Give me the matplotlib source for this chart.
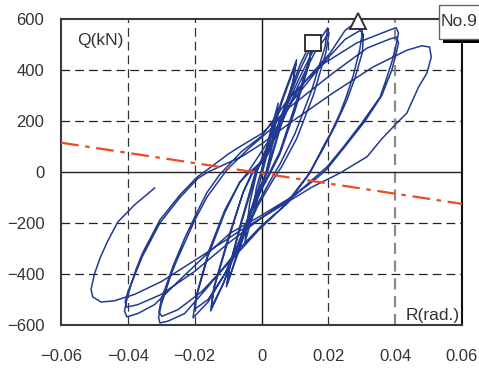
import matplotlib
matplotlib.use("Agg")
import matplotlib.pyplot as plt
from matplotlib.patches import Rectangle

plt.rcParams['font.family'] = ['Liberation Sans', 'DejaVu Sans']

# ---- hysteresis data, cycle by cycle (R in rad, Q in kN) ----
r_c1 = [0, 0.0025, 0.0015, -0.0005, -0.0025, -0.0015, 0.0005]
q_c1 = [0, 140, 60, -40, -140, -60, 30]

r_c2 = [0.0025, 0.005, 0.0035, 0.001, -0.0025, -0.005, -0.0035, -0.001]
q_c2 = [150, 270, 120, -20, -160, -280, -120, 20]

r_c3 = [0.002, 0.006, 0.0105, 0.0095, 0.006, 0.0015, -0.002, -0.006, -0.0105, -0.0095, -0.006, -0.0015]
q_c3 = [110, 280, 440, 360, 200, 0, -110, -280, -450, -370, -200, 0]

r_c4 = [0.002, 0.006, 0.0103, 0.0093, 0.006, 0.0018, -0.002, -0.006, -0.0103, -0.0093, -0.006, -0.0018]
q_c4 = [100, 270, 425, 345, 190, 0, -100, -270, -440, -355, -190, 0]

r_c5 = [0.002, 0.007, 0.0115, 0.0152, 0.0143, 0.010, 0.0055, 0.0025, -0.002, -0.007, -0.0115, -0.0152,
        -0.0143, -0.010, -0.0055, -0.0025]
q_c5 = [80, 260, 420, 520, 440, 260, 80, 0, -110, -280, -440, -545, -460, -270, -80, 0]

r_c6 = [0.002, 0.007, 0.0115, 0.015, 0.0142, 0.010, 0.0055, 0.0028, -0.002, -0.007, -0.0115, -0.015,
        -0.0142, -0.010, -0.0055, -0.0028]
q_c6 = [70, 250, 400, 495, 420, 240, 70, 0, -120, -290, -440, -530, -450, -260, -80, 0]

r_c7 = [0.001, 0.006, 0.011, 0.016, 0.0198, 0.019, 0.015, 0.010, 0.0055, 0.0032, -0.001, -0.006,
        -0.011, -0.016, -0.0205, -0.0197, -0.016, -0.011, -0.0065, -0.0035]
q_c7 = [60, 210, 360, 490, 565, 490, 320, 150, 30, -20, -120, -260,
        -400, -510, -572, -500, -330, -160, -40, 0]

r_c8 = [0.001, 0.006, 0.011, 0.016, 0.0202, 0.0193, 0.0155, 0.0105, 0.006, 0.0035, -0.001, -0.006,
        -0.011, -0.016, -0.0199, -0.0192, -0.0158, -0.011, -0.0065, -0.004]
q_c8 = [50, 190, 340, 470, 545, 470, 300, 130, 20, -30, -130, -270,
        -400, -500, -537, -470, -310, -150, -40, 0]

r_c9 = [-0.001, 0.004, 0.0115, 0.0205, 0.025, 0.0275, 0.0293, 0.0302, 0.0300, 0.0294, 0.0275,
        0.0255, 0.0235, 0.021, 0.0184, 0.0145, 0.008, 0.0, -0.008, -0.016, -0.023, -0.028,
        -0.0304, -0.0308, -0.0300, -0.027, -0.0253, -0.020, -0.0163, -0.0104]
q_c9 = [60, 160, 333, 466, 555, 580, 584, 570, 530, 480, 380,
        300, 231, 160, 98, -4, -120, -210, -320, -450, -555, -585,
        -592, -570, -520, -400, -345, -190, -98, 8]

r_c10 = [-0.004, 0.003, 0.010, 0.018, 0.025, 0.0295, 0.0305, 0.0302, 0.028, 0.0255, 0.022, 0.018,
         0.014, 0.007, -0.001, -0.010, -0.018, -0.025, -0.0298, -0.0307, -0.0300, -0.0265, -0.023,
         -0.019, -0.0163, -0.0125]
q_c10 = [90, 170, 290, 420, 520, 555, 540, 470, 370, 280, 180, 80,
         -10, -130, -230, -360, -470, -540, -566, -550, -500, -370, -260,
         -150, -80, -10]

r_c11 = [-0.006, 0.0, 0.0085, 0.018, 0.0285, 0.0384, 0.0403, 0.0410, 0.0403, 0.0392, 0.0375,
         0.0355, 0.030, 0.0245, 0.0196, 0.0175, 0.010, 0.0, -0.0094, -0.017, -0.025, -0.032,
         -0.037, -0.0403, -0.0410, -0.0403, -0.0390, -0.0375, -0.0356, -0.0304, -0.0244,
         -0.0193, -0.0163]
q_c11 = [80, 140, 294, 420, 506, 557, 566, 545, 500, 440, 370,
         294, 192, 98, 20, -4, -90, -170, -240, -330, -430, -520,
         -555, -568, -545, -500, -440, -380, -318, -188, -90,
         -20, 8]

r_c12 = [-0.010, -0.0064, 0.0, 0.0085, 0.0214, 0.0316, 0.0385, 0.0405, 0.0410, 0.0402, 0.039,
         0.036, 0.031, 0.025, 0.0195, 0.016, 0.008, 0.0, -0.010, -0.020, -0.030, -0.037,
         -0.0403, -0.0408, -0.0400, -0.0378, -0.0356, -0.0304, -0.0244, -0.019, -0.016]
q_c12 = [70, 100, 150, 255, 388, 486, 522, 529, 505, 460, 400,
         300, 200, 100, 10, -30, -110, -180, -280, -390, -480, -520,
         -530, -510, -470, -400, -330, -200, -100, -25, 0]

r_c13 = [-0.006, 0.0, 0.0085, 0.0214, 0.0334, 0.0436, 0.048, 0.0503, 0.0508, 0.0495, 0.047,
         0.0435, 0.0405, 0.036, 0.0316, 0.0235, 0.015, 0.005, -0.0064, -0.018, -0.030, -0.038,
         -0.044, -0.048, -0.0505, -0.051, -0.050, -0.0483, -0.046, -0.043, -0.038, -0.032]
q_c13 = [60, 110, 192, 310, 412, 478, 495, 490, 450, 388, 333,
         231, 192, 130, 60, -4, -60, -140, -230, -330, -430, -480,
         -505, -510, -490, -460, -400, -337, -270, -196, -129, -63]

cycles_r = [r_c1, r_c2, r_c3, r_c4, r_c5, r_c6, r_c7, r_c8, r_c9, r_c10, r_c11, r_c12, r_c13]
cycles_q = [q_c1, q_c2, q_c3, q_c4, q_c5, q_c6, q_c7, q_c8, q_c9, q_c10, q_c11, q_c12, q_c13]

# reference (dash-dot) line
pd_r = [-0.06, 0.06]
pd_q = [115, -125]

# markers
sq_r, sq_q = [0.0154], [507]
tri_r, tri_q = [0.0288], [592]

x_ticks = [-0.06, -0.04, -0.02, 0, 0.02, 0.04, 0.06]
x_labels = ['\u22120.06', '\u22120.04', '\u22120.02', '0', '0.02', '0.04', '0.06']
y_ticks = [-600, -400, -200, 0, 200, 400, 600]
y_labels = ['\u2212600', '\u2212400', '\u2212200', '0', '200', '400', '600']

# ---- figure ----
fig = plt.figure(figsize=(4.79, 3.71), dpi=100)
ax = fig.add_axes([61 / 479, 1 - 325 / 371, 401 / 479, 306 / 371])
ax.set_xlim(-0.06, 0.06)
ax.set_ylim(-600, 600)

# grid
for yv in [-400, -200, 200, 400]:
    ax.axhline(yv, color='#222222', lw=0.9, dashes=(7, 4), zorder=1)
for xv in [-0.04, -0.02, 0.02]:
    ax.axvline(xv, color='#333333', lw=0.9, dashes=(7, 4), zorder=1)
ax.axvline(0.04, color='#8a8a8a', lw=1.6, dashes=(5, 3), zorder=1)
ax.axhline(0, color='#222222', lw=1.0, zorder=1)
ax.axvline(0, color='#111111', lw=1.0, zorder=1)

# hysteresis
all_r = []
all_q = []
for rr, qq in zip(cycles_r, cycles_q):
    all_r.extend(rr)
    all_q.extend(qq)
ax.plot(all_r, all_q, color='#223b90', lw=1.1, zorder=3, solid_joinstyle='round')

# reference line
ax.plot(pd_r, pd_q, color='#ef4a24', lw=1.6, dashes=(8, 3, 2, 3), zorder=4)

# markers
ax.plot(sq_r, sq_q, marker='s', ms=11, mfc='white', mec='#333333', mew=1.4, ls='none', zorder=5)
ax.plot(tri_r, tri_q, marker='^', ms=12, mfc='white', mec='#333333', mew=1.4, ls='none',
        zorder=5, clip_on=False)

# ticks
ax.set_xticks(x_ticks)
ax.set_xticklabels(x_labels)
ax.set_yticks(y_ticks)
ax.set_yticklabels(y_labels)
ax.tick_params(length=0, labelsize=12, colors='#333333')
ax.tick_params(axis='x', pad=17)
ax.tick_params(axis='y', pad=12)

for s in ax.spines.values():
    s.set_color('#3a3a3a')
    s.set_linewidth(1.5)
ax.spines['right'].set_color('#111111')

ax.text(-0.0552, 517, 'Q(kN)', fontsize=12.5, color='#333333', ha='left', va='center', zorder=6)
ax.text(0.0594, -592, 'R(rad.)', fontsize=12.5, color='#333333', ha='right', va='bottom', zorder=6)

# "No.9" label box with shadow
shadow = Rectangle((443 / 479, 1 - 43 / 371), 50 / 479, 34 / 371, transform=fig.transFigure,
                   facecolor='black', edgecolor='none', zorder=10)
box = Rectangle((439 / 479, 1 - 39 / 371), 50 / 479, 34 / 371, transform=fig.transFigure,
                facecolor='white', edgecolor='#666666', lw=1.0, zorder=11)
fig.patches.extend([shadow, box])
fig.text(477 / 479, 1 - 22 / 371, 'No.9', fontsize=12.5, color='#333333', ha='right', va='center',
         zorder=12)

fig.savefig('out.png', dpi=100)
